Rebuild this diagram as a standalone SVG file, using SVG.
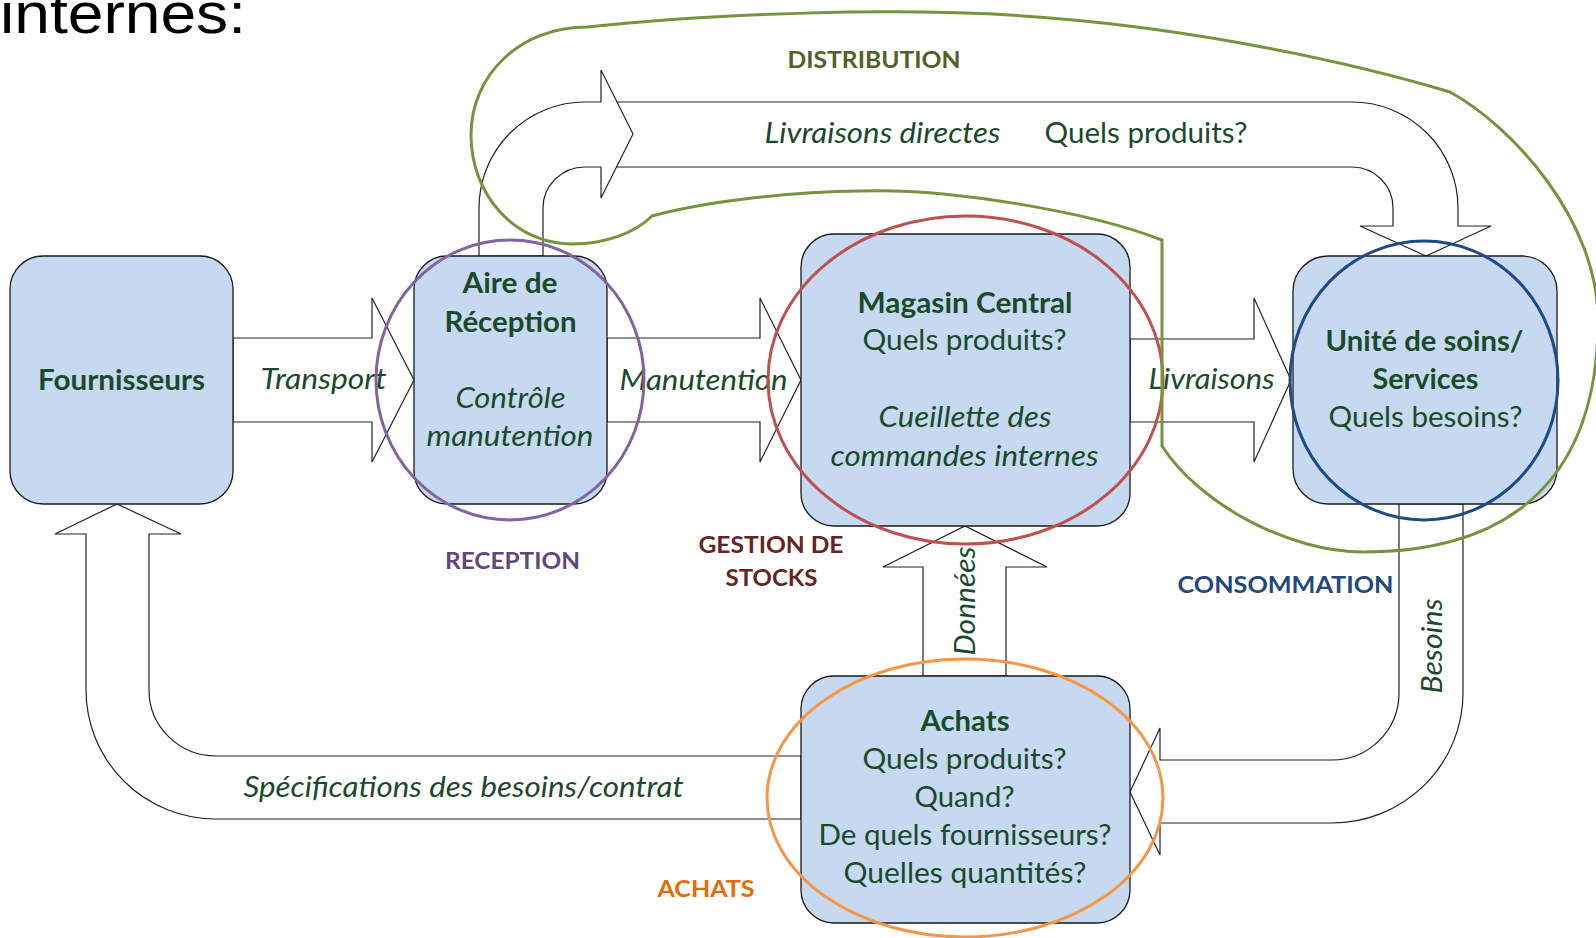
<svg xmlns="http://www.w3.org/2000/svg" width="1596" height="938" viewBox="0 0 1596 938">
<style>
.box{fill:#C6D9F1;stroke:#1a1a1a;stroke-width:1.3}
.arr{fill:#ffffff;stroke:#222222;stroke-width:1.2;stroke-linejoin:miter}
.t{font-family:Lato,"Open Sans",sans-serif;font-size:28px;fill:#1A4A2A;text-anchor:middle}
.b{font-weight:bold}
.i{font-style:italic}
.lab{font-family:Lato,"Open Sans",sans-serif;font-size:23px;font-weight:bold;text-anchor:middle}
.ring{fill:none;stroke-width:3}
</style>
<rect x="0" y="0" width="1596" height="938" fill="#ffffff"/>
<text x="0" y="33" font-family="Liberation Sans, Arial, sans-serif" font-size="58" fill="#000000" textLength="246" lengthAdjust="spacingAndGlyphs">internes:</text>

<g id="connectors">
  <path id="transport" class="arr" d="M233,338 L372,338 L372,298 L414,380 L372,462 L372,422 L233,422 Z"/>
  <path id="manutention" class="arr" d="M607,338 L760,338 L760,298 L801,380 L760,462 L760,422 L607,422 Z"/>
  <path id="livraisons" class="arr" d="M1130,339 L1254,339 L1254,298 L1291,380 L1254,462 L1254,422 L1130,422 Z"/>
  <path id="distribution-right" class="arr" d="M601,102 L1352,102 A106,106 0 0 1 1458,208 L1458,226 L1491,226 L1426,256 L1360,226 L1393,226 L1393,208 A41,41 0 0 0 1352,167 L601,167"/>
  <path id="distribution-left" class="arr" d="M479,256 L479,208 A106,106 0 0 1 585,102 L601,102 L601,70 L633,134 L601,198 L601,167 L585,167 A42,41 0 0 0 543,208 L543,256 Z"/>
  <path id="specifications" class="arr" d="M801,756 L216,756 A67,66 0 0 1 149,690 L149,534 L181,534 L117,504 L55,534 L86,534 L86,690 A130,129 0 0 0 216,819 L801,819 Z"/>
  <path id="besoins" class="arr" d="M1399,504 L1399,693 A67,67 0 0 1 1332,760 L1160,760 L1160,728 L1130,792 L1160,855 L1160,823 L1332,823 A131,130 0 0 0 1463,693 L1463,504 Z"/>
  <path id="donnees" class="arr" d="M923,676 L923,567 L883,567 L965,526 L1047,567 L1006,567 L1006,676 Z"/>
  <text class="t i" x="323.5" y="389" textLength="126" lengthAdjust="spacingAndGlyphs">Transport</text>
  <text class="t i" x="703.5" y="390" textLength="168" lengthAdjust="spacingAndGlyphs">Manutention</text>
  <text class="t i" x="1211.5" y="389" textLength="126" lengthAdjust="spacingAndGlyphs">Livraisons</text>
  <text class="t i" x="882.5" y="143" textLength="236" lengthAdjust="spacingAndGlyphs">Livraisons directes</text>
  <text class="t" x="1146" y="143" textLength="203" lengthAdjust="spacingAndGlyphs">Quels produits?</text>
  <text class="t i" x="463.5" y="797" textLength="440" lengthAdjust="spacingAndGlyphs">Spécifications des besoins/contrat</text>
  <text class="t i" transform="translate(975,601) rotate(-90)" x="0" y="0" textLength="109" lengthAdjust="spacingAndGlyphs">Données</text>
  <text class="t i" transform="translate(1442,646) rotate(-90)" x="0" y="0" textLength="95" lengthAdjust="spacingAndGlyphs">Besoins</text>
</g>

<g id="node-fournisseurs">
  <rect class="box" x="10" y="256" width="223" height="248" rx="33" ry="33"/>
  <text class="t b" x="121.5" y="390" textLength="167" lengthAdjust="spacingAndGlyphs">Fournisseurs</text>
</g>
<g id="node-reception">
  <rect class="box" x="414" y="256" width="193" height="248" rx="33" ry="33"/>
  <text class="t b" x="510" y="293" textLength="95" lengthAdjust="spacingAndGlyphs">Aire de</text>
  <text class="t b" x="510.5" y="332" textLength="132" lengthAdjust="spacingAndGlyphs">Réception</text>
  <text class="t i" x="510.5" y="408" textLength="110" lengthAdjust="spacingAndGlyphs">Contrôle</text>
  <text class="t i" x="510" y="446" textLength="167" lengthAdjust="spacingAndGlyphs">manutention</text>
</g>
<g id="node-magasin">
  <rect class="box" x="801" y="234" width="329" height="292" rx="33" ry="33"/>
  <text class="t b" x="965" y="313" textLength="215" lengthAdjust="spacingAndGlyphs">Magasin Central</text>
  <text class="t" x="964.5" y="350" textLength="204" lengthAdjust="spacingAndGlyphs">Quels produits?</text>
  <text class="t i" x="965" y="427" textLength="173" lengthAdjust="spacingAndGlyphs">Cueillette des</text>
  <text class="t i" x="964.5" y="466" textLength="268" lengthAdjust="spacingAndGlyphs">commandes internes</text>
</g>
<g id="node-unite">
  <rect class="box" x="1293" y="256" width="264" height="248" rx="35" ry="35"/>
  <text class="t b" x="1424.5" y="351" textLength="198" lengthAdjust="spacingAndGlyphs">Unité de soins/</text>
  <text class="t b" x="1425.5" y="389" textLength="106" lengthAdjust="spacingAndGlyphs">Services</text>
  <text class="t" x="1425.5" y="427" textLength="194" lengthAdjust="spacingAndGlyphs">Quels besoins?</text>
</g>
<g id="node-achats">
  <rect class="box" x="801" y="676" width="329" height="247" rx="33" ry="33"/>
  <text class="t b" x="965" y="731" textLength="89" lengthAdjust="spacingAndGlyphs">Achats</text>
  <text class="t" x="964.5" y="769" textLength="204" lengthAdjust="spacingAndGlyphs">Quels produits?</text>
  <text class="t" x="964.5" y="807" textLength="100" lengthAdjust="spacingAndGlyphs">Quand?</text>
  <text class="t" x="965" y="845" textLength="293" lengthAdjust="spacingAndGlyphs">De quels fournisseurs?</text>
  <text class="t" x="965" y="883" textLength="243" lengthAdjust="spacingAndGlyphs">Quelles quantités?</text>
</g>

<g id="zone-reception">
  <ellipse class="ring" cx="510" cy="380" rx="134" ry="140" stroke="#8064A2"/>
  <text class="lab" x="512.5" y="569" fill="#5F497A" textLength="135" lengthAdjust="spacingAndGlyphs">RECEPTION</text>
</g>
<g id="zone-stocks">
  <ellipse class="ring" cx="965.5" cy="380" rx="197.5" ry="164" stroke="#C0504D"/>
  <text class="lab" x="771" y="553" fill="#632523" textLength="145" lengthAdjust="spacingAndGlyphs">GESTION DE</text>
  <text class="lab" x="771.5" y="586" fill="#632523" textLength="92" lengthAdjust="spacingAndGlyphs">STOCKS</text>
</g>
<g id="zone-consommation">
  <ellipse class="ring" cx="1424" cy="380.5" rx="134" ry="139.5" stroke="#1F4A85"/>
  <text class="lab" x="1285.5" y="593" fill="#1F497D" textLength="216" lengthAdjust="spacingAndGlyphs">CONSOMMATION</text>
</g>
<g id="zone-achats">
  <ellipse class="ring" cx="965" cy="798" rx="198" ry="139" stroke="#F79646"/>
  <text class="lab" x="706" y="897" fill="#E36C09" textLength="97" lengthAdjust="spacingAndGlyphs">ACHATS</text>
</g>
<g id="zone-distribution">
  <path class="ring" stroke="#77933C" d="M587,27 C700,15 900,5 1050,18 C1200,30 1350,62 1450,92 C1512,126 1598,220 1598,320 C1598,470 1520,552 1363,552 C1290,552 1200,505 1162,446 L1162,240 C1090,212 950,188 861,191 C780,192 700,203 652,216 C635,233 605,244 572,244 C515,244 471,195 471,135 C471,75 520,27 587,27 Z"/>
  <text class="lab" x="874" y="68" fill="#4F6228" textLength="173" lengthAdjust="spacingAndGlyphs">DISTRIBUTION</text>
</g>
</svg>
